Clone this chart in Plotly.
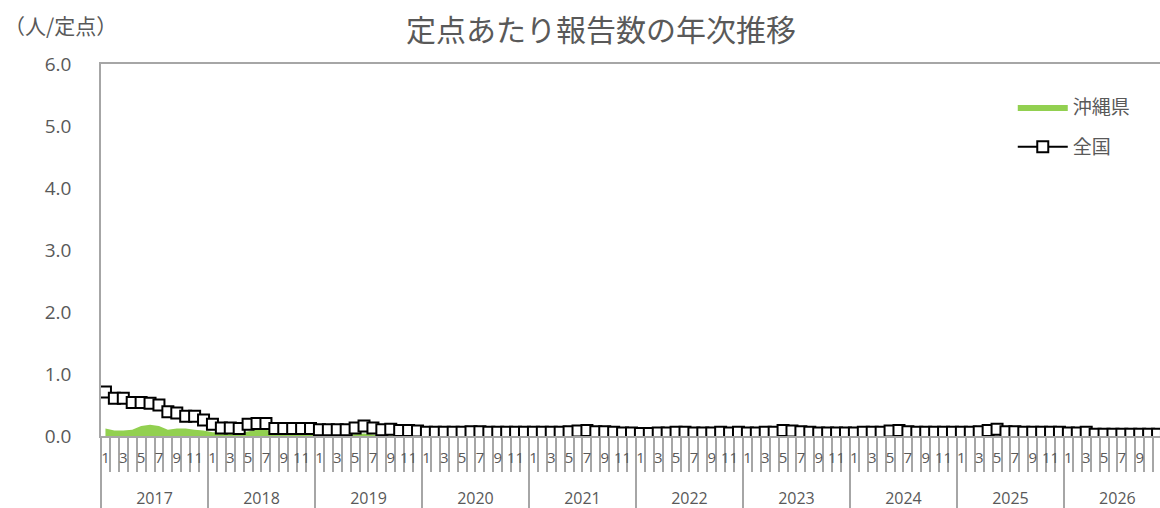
import plotly.graph_objects as go

years = [2017, 2018, 2019, 2020, 2021, 2022, 2023, 2024, 2025, 2026]
months = list(range(1, 13))

okinawa = [
    0.12, 0.09, 0.09, 0.10, 0.16, 0.18, 0.16, 0.10, 0.12, 0.12, 0.10, 0.09,  # 2017
    0.06, 0.05, 0.05, 0.05, 0.08, 0.10, 0.10, 0.06, 0.04, 0.03, 0.03, 0.03,  # 2018
    0.02, 0.02, 0.02, 0.02, 0.03, 0.04, 0.02, 0.01, 0.01, 0.01, 0.01, 0.01,  # 2019
    0.01, 0.01, 0.01, 0.00, 0.00, 0.00, 0.00, 0.00, 0.00, 0.00, 0.00, 0.00,  # 2020
    0.00, 0.00, 0.00, 0.00, 0.00, 0.00, 0.00, 0.00, 0.00, 0.00, 0.00, 0.00,  # 2021
    0.00, 0.00, 0.00, 0.00, 0.00, 0.00, 0.00, 0.00, 0.00, 0.00, 0.00, 0.00,  # 2022
    0.00, 0.00, 0.00, 0.00, 0.00, 0.00, 0.00, 0.00, 0.00, 0.00, 0.00, 0.00,  # 2023
    0.00, 0.00, 0.00, 0.00, 0.00, 0.00, 0.00, 0.00, 0.00, 0.00, 0.00, 0.00,  # 2024
    0.00, 0.00, 0.00, 0.00, 0.00, 0.00, 0.00, 0.00, 0.00, 0.00, 0.00, 0.00,  # 2025
    0.00, 0.00, 0.00, 0.00, 0.00, 0.00, 0.00, 0.00, 0.00, 0.00, 0.00, 0.00,  # 2026
]

zenkoku = [
    0.71, 0.61, 0.61, 0.54, 0.54, 0.53, 0.50, 0.39, 0.37, 0.32, 0.32, 0.26,  # 2017
    0.19, 0.13, 0.13, 0.12, 0.19, 0.20, 0.20, 0.12, 0.12, 0.12, 0.12, 0.12,  # 2018
    0.10, 0.10, 0.10, 0.10, 0.13, 0.16, 0.13, 0.10, 0.11, 0.09, 0.09, 0.08,  # 2019
    0.06, 0.06, 0.06, 0.06, 0.06, 0.07, 0.07, 0.06, 0.06, 0.06, 0.06, 0.06,  # 2020
    0.06, 0.06, 0.06, 0.06, 0.07, 0.08, 0.09, 0.07, 0.07, 0.06, 0.05, 0.05,  # 2021
    0.04, 0.04, 0.05, 0.05, 0.06, 0.06, 0.05, 0.05, 0.05, 0.06, 0.05, 0.06,  # 2022
    0.05, 0.05, 0.06, 0.06, 0.09, 0.08, 0.07, 0.06, 0.05, 0.05, 0.05, 0.05,  # 2023
    0.05, 0.06, 0.06, 0.06, 0.08, 0.09, 0.07, 0.06, 0.06, 0.06, 0.06, 0.06,  # 2024
    0.06, 0.06, 0.07, 0.09, 0.11, 0.07, 0.07, 0.06, 0.06, 0.06, 0.06, 0.06,  # 2025
    0.05, 0.05, 0.06, 0.03, 0.03, 0.03, 0.03, 0.03, 0.03, 0.03, 0.03, 0.03,  # 2026
]

month_labels = ["1", "3", "5", "7", "9", "11"]

n = len(years) * 12
x = list(range(n))

GRAY_TXT = "#595959"
GRAY_LINE = "#A6A6A6"
FONT = "Open Sans, Noto Sans CJK JP, sans-serif"
JFONT = "Noto Sans CJK JP, sans-serif"

fig = go.Figure()
fig.add_trace(go.Scatter(
    x=x, y=okinawa, name="沖縄県", mode="lines", legendgroup="a",
    line=dict(width=0, color="#92D050"), fill="tozeroy", fillcolor="#92D050",
))
fig.add_trace(go.Scatter(
    x=x, y=zenkoku, name="全国", mode="lines+markers", legendgroup="b",
    line=dict(color="black", width=2),
    marker=dict(symbol="square", size=11, color="white", line=dict(color="black", width=2)),
))

xr = [-0.5, -0.5 + 1059 / 8.916]

month_ticks, month_text = [], []
for yi in range(len(years)):
    for m in months:
        if str(m) in month_labels:
            month_ticks.append(yi * 12 + m - 1)
            month_text.append(str(m))

year_bounds = [yi * 12 - 0.5 for yi in range(len(years) + 1)]
month_bounds = [i - 0.5 for i in range(n + 1)]
year_centers = [yi * 12 + 5.5 for yi in range(len(years))]

fig.update_layout(
    width=1160, height=508,
    margin=dict(l=101, r=0, t=64, b=72),
    paper_bgcolor="white", plot_bgcolor="white",
    font=dict(family=FONT, color=GRAY_TXT),
    title=dict(text="定点あたり報告数の年次推移", x=601 / 1160, xanchor="center",
               y=1 - 30 / 508, yanchor="middle",
               font=dict(family=JFONT, size=30, color=GRAY_TXT)),
    showlegend=True,
    legend=dict(x=(1017 - 101) / 1059 - 0.004, y=0.935, xanchor="left", yanchor="top",
                font=dict(family=JFONT, size=19, color=GRAY_TXT),
                bgcolor="rgba(0,0,0,0)", itemwidth=50, tracegroupgap=12),
    xaxis=dict(
        range=xr, showline=True, linecolor=GRAY_LINE, linewidth=1.5, mirror=True,
        showgrid=False, zeroline=False,
        tickmode="array", tickvals=year_bounds, ticks="outside", ticklen=72,
        tickcolor=GRAY_LINE, tickwidth=1.5, showticklabels=False,
        minor=dict(tickmode="array", tickvals=month_bounds, ticks="outside",
                   ticklen=34, tickcolor=GRAY_LINE, tickwidth=1.5, showgrid=False),
    ),
    xaxis2=dict(
        range=xr, overlaying="x", anchor="y", side="bottom", showline=False,
        showgrid=False, zeroline=False, ticks="",
        tickmode="array", tickvals=month_ticks, ticktext=month_text,
        tickfont=dict(size=15, color=GRAY_TXT), ticklabelstandoff=11,
    ),
    xaxis3=dict(
        range=xr, overlaying="x", anchor="y", side="bottom", showline=False,
        showgrid=False, zeroline=False, ticks="",
        tickmode="array", tickvals=year_centers, ticktext=[str(y) for y in years],
        tickfont=dict(size=16, color=GRAY_TXT), ticklabelstandoff=51,
    ),
    yaxis=dict(
        range=[0, 6], dtick=1, tickformat=".1f", showline=True, linecolor=GRAY_LINE,
        linewidth=1.5, showgrid=False, zeroline=False, ticks="",
        tickfont=dict(size=19, color=GRAY_TXT), ticklabelstandoff=24,
    ),
    annotations=[dict(text="（人/定点）", xref="paper", yref="paper",
                      x=(2 - 101) / 1059, y=1 + (64 - 25) / 372,
                      xanchor="left", yanchor="middle", showarrow=False,
                      font=dict(family=JFONT, size=21, color=GRAY_TXT))],
)

# invisible helper traces so the overlay label axes are drawn
fig.add_trace(go.Scatter(x=[0], y=[0], xaxis="x2", mode="markers",
                         marker=dict(opacity=0), showlegend=False, hoverinfo="skip"))
fig.add_trace(go.Scatter(x=[0], y=[0], xaxis="x3", mode="markers",
                         marker=dict(opacity=0), showlegend=False, hoverinfo="skip"))

fig.write_html("out.html", config={"displayModeBar": False},
               post_script="document.body.style.margin='0';document.body.style.overflow='hidden';")
